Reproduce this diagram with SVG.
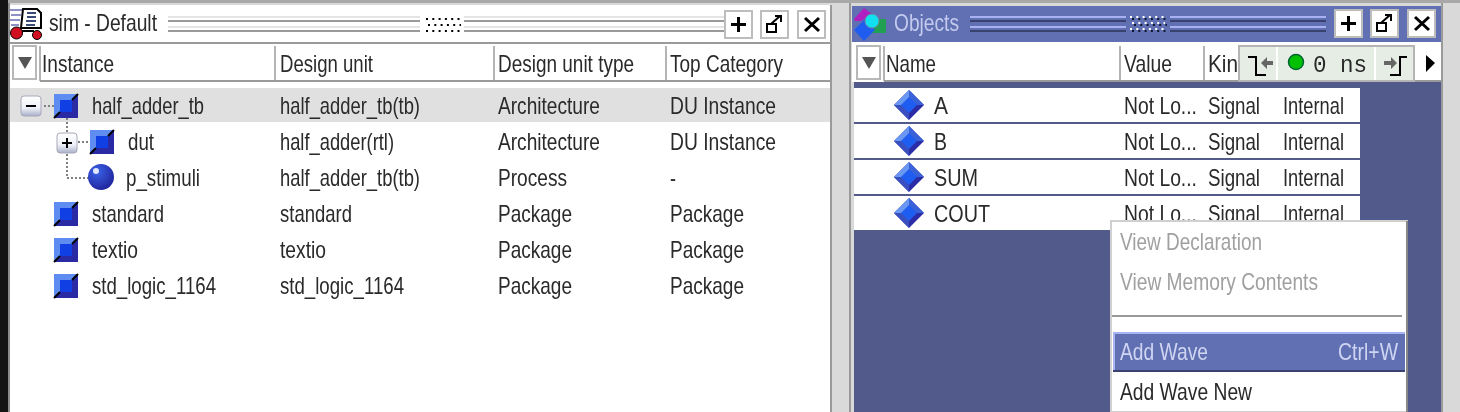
<svg xmlns="http://www.w3.org/2000/svg" width="1460" height="412" viewBox="0 0 1460 412">
<style>
text{font-family:"Liberation Sans",Arial,sans-serif;font-size:24px;fill:#2a2a2a;filter:url(#soft)}
.dis{fill:#a0a0a0}.sel{fill:#cfd5f2}.ttl{fill:#c3caee}
.dot{fill:none;stroke:#808080;stroke-width:2;stroke-dasharray:2 2}
.l1{fill:#e4e4e4}.g1{fill:#9a9a9a}.g2{fill:#a8b2f2}.g3{fill:#39416f}
</style>
<defs>
<filter id="soft" x="-5%" y="-20%" width="110%" height="140%"><feGaussianBlur stdDeviation="0.35"/></filter>
<g id="sq">
<rect width="24" height="24" fill="#2a2aa4"/>
<polygon points="0,0 24,0 0,24" fill="#5f8cf0"/>
<rect x="6" y="6" width="12" height="12" fill="#1040e4"/>
<path d="M0 24L6 18M18 6L24 0" stroke="#000" stroke-width="2"/>
</g>
<g id="dia">
<polygon points="0,-15 15,0 0,15 -15,0" fill="#2b2ca6"/>
<polygon points="0,-15 -15,0 0,0" fill="#6a97f2"/>
<polygon points="0,-15 15,0 0,0" fill="#3a62d8"/>
<polygon points="-15,0 0,15 0,0" fill="#3a50c0"/>
<polygon points="0,-8 8,0 0,8 -8,0" fill="#1f5cf0"/>
</g>
<g id="btn">
<rect width="27" height="27" fill="#fff" stroke="#bdbdbd" stroke-width="2"/>
</g>
<linearGradient id="bx" x1="0" y1="0" x2="0" y2="1"><stop offset="0" stop-color="#fff"/><stop offset=".6" stop-color="#eef0f8"/><stop offset="1" stop-color="#a8afc8"/></linearGradient>
<radialGradient id="ball" cx=".35" cy=".3" r=".7"><stop offset="0" stop-color="#3a62e8"/><stop offset="1" stop-color="#2228a0"/></radialGradient>
</defs>

<g id="background">
<rect width="1460" height="412" fill="#d9d9d9"/>
<rect x="0" width="8" height="412" fill="#141414"/>
<rect x="8" width="2" height="412" fill="#8c8c8c"/>
<rect x="8" y="0" width="1452" height="3" fill="#a8a8a8"/>
</g>

<g id="sim-panel">
<rect x="10" y="5" width="820" height="407" fill="#fff"/>
<rect x="830" y="5" width="2" height="407" fill="#9a9a9a"/>
<rect x="10" y="42" width="820" height="2" fill="#9a9a9a"/>
<g id="sim-icon">
<path d="M10 9h12v2H10zM11 14h10v2H11zM10 19h10v2H10zM11 24h8v2h-8z" fill="#9090c8"/>
<path d="M23 9h14l4 4v15H21z" fill="#fff" stroke="#000" stroke-width="2"/>
<path d="M27 13h9M27 17h9M26 21h10M26 25h9" stroke="#3a4a78" stroke-width="2"/>
<path d="M22 31h12" stroke="#000" stroke-width="2"/>
<circle cx="16.500" cy="33" r="6" fill="#d01020" stroke="#000"/><circle cx="37" cy="35" r="4.500" fill="#d01020" stroke="#000"/>
</g>
<text x="49" y="31" textLength="108" lengthAdjust="spacingAndGlyphs">sim - Default</text>
<g id="sim-grip">
<rect class="l1" x="168" y="16" width="252" height="2"/><rect class="g1" x="168" y="20" width="252" height="2"/><rect class="l1" x="168" y="26" width="252" height="2"/><rect class="g1" x="168" y="30" width="252" height="2"/>
<rect class="l1" x="464" y="16" width="262" height="2"/><rect class="g1" x="464" y="20" width="262" height="2"/><rect class="l1" x="464" y="26" width="262" height="2"/><rect class="g1" x="464" y="30" width="262" height="2"/>
<path d="M426 19h35M428 25h33M426 31h35" fill="none" stroke="#000" stroke-width="2" stroke-dasharray="2 4.300"/>
</g>
<g id="sim-buttons">
<use href="#btn" x="725" y="11"/><use href="#btn" x="761" y="11"/><use href="#btn" x="798" y="11"/>
<path d="M731 24.500h15M738.500 17v15" stroke="#000" stroke-width="3"/>
<path d="M767 24h9v8h-9zM771 24l9-8M775 16h6v6" fill="none" stroke="#000" stroke-width="2"/>
<path d="M805 18l14 13M819 18l-14 13" stroke="#000" stroke-width="3"/>
</g>
<g id="sim-header">
<rect x="13" y="46" width="23" height="33" fill="#fff" stroke="#b8b8b8" stroke-width="2"/>
<polygon points="18,57 32,57 25,69" fill="#555"/>
<path d="M40 81V46M275 81V46M494 81V46M666 81V46" stroke="#b4b4b4" stroke-width="2"/>
<rect x="40" y="80" width="790" height="2" fill="#9a9a9a"/>
<text x="42" y="72" textLength="72" lengthAdjust="spacingAndGlyphs">Instance</text>
<text x="280" y="72" textLength="93" lengthAdjust="spacingAndGlyphs">Design unit</text>
<text x="498" y="72" textLength="136" lengthAdjust="spacingAndGlyphs">Design unit type</text>
<text x="670" y="72" textLength="113" lengthAdjust="spacingAndGlyphs">Top Category</text>
</g>
<rect id="sim-selected-row" x="10" y="88" width="820" height="34" fill="#e0e0e0"/>
<g id="sim-connectors">
<path class="dot" d="M44 106H54M67 118V132M78 142H90M67 154V178H88"/>
</g>
<g id="sim-tree-boxes">
<rect x="21" y="96" width="20" height="20" rx="3" fill="url(#bx)" stroke="#a8a8b8"/><rect x="26" y="105" width="10" height="2" fill="#000"/>
<rect x="57" y="133" width="20" height="20" rx="3" fill="url(#bx)" stroke="#a8a8b8"/><path d="M62 143h10M67 138v10" stroke="#000" stroke-width="2"/>
</g>
<g id="node-half_adder_tb"><use href="#sq" x="54" y="94"/>
<text x="92" y="114" textLength="112" lengthAdjust="spacingAndGlyphs">half_adder_tb</text>
<text x="280" y="114" textLength="140" lengthAdjust="spacingAndGlyphs">half_adder_tb(tb)</text>
<text x="498" y="114" textLength="102" lengthAdjust="spacingAndGlyphs">Architecture</text>
<text x="670" y="114" textLength="106" lengthAdjust="spacingAndGlyphs">DU Instance</text></g>
<g id="node-dut"><use href="#sq" x="90" y="130"/>
<text x="128" y="150" textLength="26" lengthAdjust="spacingAndGlyphs">dut</text>
<text x="280" y="150" textLength="114" lengthAdjust="spacingAndGlyphs">half_adder(rtl)</text>
<text x="498" y="150" textLength="102" lengthAdjust="spacingAndGlyphs">Architecture</text>
<text x="670" y="150" textLength="106" lengthAdjust="spacingAndGlyphs">DU Instance</text></g>
<g id="node-p_stimuli">
<circle cx="101" cy="177" r="13" fill="url(#ball)"/><circle cx="96" cy="171" r="3" fill="#dfe6ff"/>
<text x="126" y="186" textLength="74" lengthAdjust="spacingAndGlyphs">p_stimuli</text>
<text x="280" y="186" textLength="140" lengthAdjust="spacingAndGlyphs">half_adder_tb(tb)</text>
<text x="498" y="186" textLength="69" lengthAdjust="spacingAndGlyphs">Process</text>
<text x="670" y="186" textLength="6" lengthAdjust="spacingAndGlyphs">-</text></g>
<g id="node-standard"><use href="#sq" x="54" y="202"/>
<text x="92" y="222" textLength="72" lengthAdjust="spacingAndGlyphs">standard</text>
<text x="280" y="222" textLength="72" lengthAdjust="spacingAndGlyphs">standard</text>
<text x="498" y="222" textLength="74" lengthAdjust="spacingAndGlyphs">Package</text>
<text x="670" y="222" textLength="74" lengthAdjust="spacingAndGlyphs">Package</text></g>
<g id="node-textio"><use href="#sq" x="54" y="238"/>
<text x="92" y="258" textLength="46" lengthAdjust="spacingAndGlyphs">textio</text>
<text x="280" y="258" textLength="46" lengthAdjust="spacingAndGlyphs">textio</text>
<text x="498" y="258" textLength="74" lengthAdjust="spacingAndGlyphs">Package</text>
<text x="670" y="258" textLength="74" lengthAdjust="spacingAndGlyphs">Package</text></g>
<g id="node-std_logic_1164"><use href="#sq" x="54" y="274"/>
<text x="92" y="294" textLength="124" lengthAdjust="spacingAndGlyphs">std_logic_1164</text>
<text x="280" y="294" textLength="124" lengthAdjust="spacingAndGlyphs">std_logic_1164</text>
<text x="498" y="294" textLength="74" lengthAdjust="spacingAndGlyphs">Package</text>
<text x="670" y="294" textLength="74" lengthAdjust="spacingAndGlyphs">Package</text></g>
</g>

<g id="objects-panel">
<rect x="849" y="3" width="2" height="409" fill="#9a9a9a"/>
<rect x="1441" y="3" width="2" height="409" fill="#9a9a9a"/>
<rect x="852" y="6" width="589" height="36" fill="#6070b2"/>
<rect x="852" y="42" width="589" height="3" fill="#fff"/>
<g id="objects-icon">
<polygon points="854,19 864,8 872,14 871,15 861,21 855,21" fill="#b020c0"/>
<rect x="871" y="19" width="15" height="14" fill="#20a050"/>
<polygon points="865,19 875,30 864,41 854,30" fill="#1f5cf0"/>
<circle cx="872" cy="21" r="7" fill="#10e0f0" stroke="#6a88a8" stroke-width="1"/>
</g>
<text class="ttl" x="894" y="31" textLength="65" lengthAdjust="spacingAndGlyphs">Objects</text>
<g id="objects-grip">
<rect class="g2" x="970" y="16" width="156" height="2"/><rect class="g3" x="970" y="20" width="156" height="2"/><rect class="g2" x="970" y="26" width="156" height="2"/><rect class="g3" x="970" y="30" width="156" height="2"/>
<rect class="g2" x="1170" y="16" width="156" height="2"/><rect class="g3" x="1170" y="20" width="156" height="2"/><rect class="g2" x="1170" y="26" width="156" height="2"/><rect class="g3" x="1170" y="30" width="156" height="2"/>
<path d="M1132 19h35M1134 25h33M1132 31h35" fill="none" stroke="#101830" stroke-width="2" stroke-dasharray="2 4.300"/>
<path d="M1130 17h35M1132 23h33M1130 29h35" fill="none" stroke="#fff" stroke-width="2" stroke-dasharray="2 4.300"/>
</g>
<g id="objects-buttons">
<use href="#btn" x="1335" y="10"/><use href="#btn" x="1371" y="10"/><use href="#btn" x="1408" y="10"/>
<path d="M1341 23.500h15M1348.500 16v15" stroke="#000" stroke-width="3"/>
<path d="M1377 23h9v8h-9zM1381 23l9-8M1385 15h6v6" fill="none" stroke="#000" stroke-width="2"/>
<path d="M1415 17l14 13M1429 17l-14 13" stroke="#000" stroke-width="3"/>
</g>
<rect x="852" y="45" width="589" height="37" fill="#fff"/>
<rect x="854" y="82" width="587" height="330" fill="#525a8c"/>
<g id="objects-header">
<rect x="857" y="46" width="23" height="33" fill="#fff" stroke="#b8b8b8" stroke-width="2"/>
<polygon points="862,57 876,57 869,69" fill="#555"/>
<path d="M884 81V46M1120 81V46M1204 81V46" stroke="#b4b4b4" stroke-width="2"/>
<rect x="884" y="80" width="557" height="2" fill="#9a9a9a"/>
<text x="886" y="72" textLength="50" lengthAdjust="spacingAndGlyphs">Name</text>
<text x="1124" y="72" textLength="48" lengthAdjust="spacingAndGlyphs">Value</text>
<text x="1208" y="72" textLength="30" lengthAdjust="spacingAndGlyphs">Kin</text>
</g>
<g id="object-A"><rect x="854" y="88" width="506" height="34" fill="#fff"/><use href="#dia" x="909" y="105"/>
<text x="934" y="114" textLength="14" lengthAdjust="spacingAndGlyphs">A</text>
<text transform="translate(1124 114) scale(.805 1)">Not Lo...</text>
<text x="1208" y="114" textLength="52" lengthAdjust="spacingAndGlyphs">Signal</text>
<text x="1283" y="114" textLength="61" lengthAdjust="spacingAndGlyphs">Internal</text></g>
<g id="object-B"><rect x="854" y="124" width="506" height="34" fill="#fff"/><use href="#dia" x="909" y="141"/>
<text x="934" y="150" textLength="13" lengthAdjust="spacingAndGlyphs">B</text>
<text transform="translate(1124 150) scale(.805 1)">Not Lo...</text>
<text x="1208" y="150" textLength="52" lengthAdjust="spacingAndGlyphs">Signal</text>
<text x="1283" y="150" textLength="61" lengthAdjust="spacingAndGlyphs">Internal</text></g>
<g id="object-SUM"><rect x="854" y="160" width="506" height="34" fill="#fff"/><use href="#dia" x="909" y="177"/>
<text x="934" y="186" textLength="44" lengthAdjust="spacingAndGlyphs">SUM</text>
<text transform="translate(1124 186) scale(.805 1)">Not Lo...</text>
<text x="1208" y="186" textLength="52" lengthAdjust="spacingAndGlyphs">Signal</text>
<text x="1283" y="186" textLength="61" lengthAdjust="spacingAndGlyphs">Internal</text></g>
<g id="object-COUT"><rect x="854" y="196" width="506" height="34" fill="#fff"/><use href="#dia" x="909" y="213"/>
<text x="934" y="222" textLength="56" lengthAdjust="spacingAndGlyphs">COUT</text>
<text transform="translate(1124 222) scale(.805 1)">Not Lo...</text>
<text x="1208" y="222" textLength="52" lengthAdjust="spacingAndGlyphs">Signal</text>
<text x="1283" y="222" textLength="61" lengthAdjust="spacingAndGlyphs">Internal</text></g>
<g id="time-toolbar">
<rect x="1239" y="46" width="175" height="35" fill="#e5ede5" stroke="#b4b4b4" stroke-width="2"/>
<path d="M1277 47v33M1375 47v33" stroke="#fff" stroke-width="2"/>
<path d="M1248 57h8v18h10" fill="none" stroke="#000" stroke-width="2"/>
<path d="M1261 63l6-6v4h6v4h-6v4z" fill="#666"/>
<circle cx="1296" cy="62" r="7.500" fill="#00c000" stroke="#063" stroke-width="1.500"/>
<text x="1313" y="72" textLength="54" lengthAdjust="spacingAndGlyphs" style="font-family:'Liberation Mono',monospace;font-size:24px">0 ns</text>
<path d="M1384 61h7v-4l6 6-6 6v-4h-7z" fill="#666"/>
<path d="M1390 75h10V57h7" fill="none" stroke="#000" stroke-width="2"/>
<polygon points="1426,55 1435,63 1426,72" fill="#000"/>
</g>
<g id="context-menu">
<rect x="1111" y="221" width="296" height="191" fill="#fff" stroke="#d0d0d0" stroke-width="2"/>
<rect x="1406" y="221" width="2" height="191" fill="#888"/>
<text class="dis" x="1120" y="250" textLength="142" lengthAdjust="spacingAndGlyphs">View Declaration</text>
<text class="dis" x="1120" y="290" textLength="198" lengthAdjust="spacingAndGlyphs">View Memory Contents</text>
<rect x="1112" y="315" width="290" height="2" fill="#999"/>
<rect x="1113" y="332" width="292" height="39" fill="#6070b2"/>
<rect x="1113" y="332" width="292" height="2" fill="#a8b4f4"/>
<rect x="1113" y="332" width="2" height="39" fill="#a8b4f4"/>
<rect x="1113" y="370" width="292" height="2" fill="#39416f"/>
<text class="sel" x="1120" y="360" textLength="88" lengthAdjust="spacingAndGlyphs">Add Wave</text>
<text class="sel" x="1338" y="360" textLength="60" lengthAdjust="spacingAndGlyphs">Ctrl+W</text>
<text x="1120" y="400" textLength="132" lengthAdjust="spacingAndGlyphs">Add Wave New</text>
</g>
</g>
</svg>
